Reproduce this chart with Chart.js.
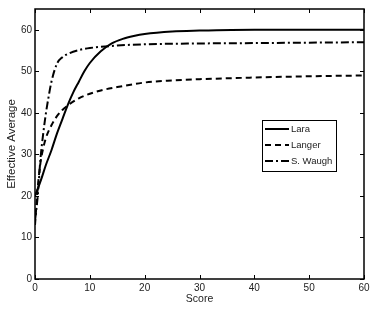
<!DOCTYPE html>
<html>
<head>
<meta charset="utf-8">
<script src="https://cdn.jsdelivr.net/npm/chart.js@4.4.0/dist/chart.umd.min.js"></script>
<style>
	html, body { margin: 0; padding: 0; background: #fff; }
	#wrap { width: 384px; height: 309px; }
</style>
</head>
<body>
<div id="wrap"><canvas id="chart" width="384" height="309"></canvas></div>
<script>
// score values (x) for each player
const lara_x = [0, 1, 2, 3, 4, 5, 6, 7, 8, 9, 10, 12, 14, 16, 18, 20, 25, 30, 40, 50, 60];
const lara_y = [20, 23.5, 27.5, 31, 35, 38.5, 42, 45, 47.5, 50, 52, 54.8, 56.7, 57.8, 58.5, 59, 59.6, 59.8, 60, 60, 60];

const langer_x = [0, 0.5, 1, 1.5, 2, 3, 4, 5, 6, 8, 10, 12, 15, 20, 25, 30, 40, 50, 60];
const langer_y = [13, 22, 28, 31.5, 34, 37, 39.2, 40.7, 41.8, 43.5, 44.6, 45.4, 46.2, 47.3, 47.8, 48.1, 48.5, 48.8, 49];

const waugh_x = [0, 0.5, 1, 1.5, 2, 2.5, 3, 4, 5, 6, 8, 10, 15, 20, 30, 40, 50, 60];
const waugh_y = [14, 20, 29, 35, 40, 44, 47.5, 51.8, 53.4, 54.2, 55.1, 55.6, 56.2, 56.5, 56.7, 56.8, 56.9, 57];

const x_ticks = [0, 10, 20, 30, 40, 50, 60];
const y_ticks = [0, 10, 20, 30, 40, 50, 60];

const font_family = "'Liberation Sans', Arial, sans-serif";

function to_points(xs, ys) {
	let points = [];
	for (let i = 0; i < xs.length; i++) {
		points.push({ x: xs[i], y: ys[i] });
	}
	return points;
}

// frame round the plot with ticks pointing inward, and the legend box
const frame_plugin = {
	id: "frame",
	afterDraw(chart) {
		const ctx = chart.ctx;
		const area = chart.chartArea;
		const xs = chart.scales.x;
		const ys = chart.scales.y;
		ctx.save();
		ctx.strokeStyle = "#000";
		ctx.lineWidth = 1.5;
		ctx.strokeRect(area.left, area.top, area.right - area.left, area.bottom - area.top);
		ctx.lineWidth = 1;
		ctx.beginPath();
		for (const t of x_ticks) {
			let px = Math.round(xs.getPixelForValue(t)) + 0.5;
			ctx.moveTo(px, area.bottom);
			ctx.lineTo(px, area.bottom - 4);
			ctx.moveTo(px, area.top);
			ctx.lineTo(px, area.top + 4);
		}
		for (const t of y_ticks) {
			let py = Math.round(ys.getPixelForValue(t)) + 0.5;
			ctx.moveTo(area.left, py);
			ctx.lineTo(area.left + 4, py);
			ctx.moveTo(area.right, py);
			ctx.lineTo(area.right - 4, py);
		}
		ctx.stroke();

		// legend
		const bx = 262, by = 120, bw = 74, bh = 51;
		ctx.fillStyle = "#fff";
		ctx.fillRect(bx, by, bw, bh);
		ctx.lineWidth = 1;
		ctx.strokeRect(bx + 0.5, by + 0.5, bw, bh);
		ctx.font = "9.5px " + font_family;
		ctx.textBaseline = "middle";
		const datasets = chart.data.datasets;
		for (let i = 0; i < datasets.length; i++) {
			let ly = by + 9 + i * 16;
			ctx.strokeStyle = "#000";
			ctx.lineWidth = datasets[i].borderWidth;
			ctx.setLineDash(datasets[i].borderDash || []);
			ctx.beginPath();
			ctx.moveTo(bx + 3, ly);
			ctx.lineTo(bx + 27, ly);
			ctx.stroke();
			ctx.setLineDash([]);
			ctx.fillStyle = "#222";
			ctx.fillText(datasets[i].label, bx + 29, ly);
		}
		ctx.restore();
	},
};

const ctx = document.getElementById("chart").getContext("2d");

const my_chart = new Chart(ctx, {
	type: "line",
	data: {
		datasets: [
			{
				label: "Lara",
				data: to_points(lara_x, lara_y),
				borderColor: "#000",
				borderWidth: 2,
				pointRadius: 0,
				cubicInterpolationMode: "monotone",
			},
			{
				label: "Langer",
				data: to_points(langer_x, langer_y),
				borderColor: "#000",
				borderWidth: 2,
				borderDash: [6, 4],
				pointRadius: 0,
				cubicInterpolationMode: "monotone",
			},
			{
				label: "S. Waugh",
				data: to_points(waugh_x, waugh_y),
				borderColor: "#000",
				borderWidth: 2,
				borderDash: [8, 3, 2, 3],
				pointRadius: 0,
				cubicInterpolationMode: "monotone",
			},
		],
	},
	options: {
		responsive: false,
		animation: false,
		layout: { padding: { top: 8, right: 20, left: 0, bottom: 0 } },
		plugins: {
			legend: { display: false },
			tooltip: { enabled: false },
		},
		scales: {
			x: {
				type: "linear",
				min: 0,
				max: 60,
				grid: { display: false, drawTicks: false },
				border: { display: false },
				afterBuildTicks: (scale) => {
					scale.ticks = x_ticks.map((v) => ({ value: v }));
				},
				afterFit: (scale) => {
					scale.height = 30;
				},
				ticks: {
					color: "#222",
					font: { family: font_family, size: 10 },
					padding: 3,
					maxRotation: 0,
				},
				title: {
					display: true,
					text: "Score",
					color: "#222",
					font: { family: font_family, size: 10.5 },
					padding: { top: 0, bottom: 4 },
				},
			},
			y: {
				min: 0,
				max: 65,
				grid: { display: false, drawTicks: false },
				border: { display: false },
				afterBuildTicks: (scale) => {
					scale.ticks = y_ticks.map((v) => ({ value: v }));
				},
				afterFit: (scale) => {
					scale.width = 35;
				},
				ticks: {
					color: "#222",
					font: { family: font_family, size: 10 },
					padding: 3,
				},
				title: {
					display: true,
					text: "Effective Average",
					color: "#222",
					font: { family: font_family, size: 11.5 },
					padding: { top: 5, bottom: 0 },
				},
			},
		},
	},
	plugins: [frame_plugin],
});
</script>
</body>
</html>
